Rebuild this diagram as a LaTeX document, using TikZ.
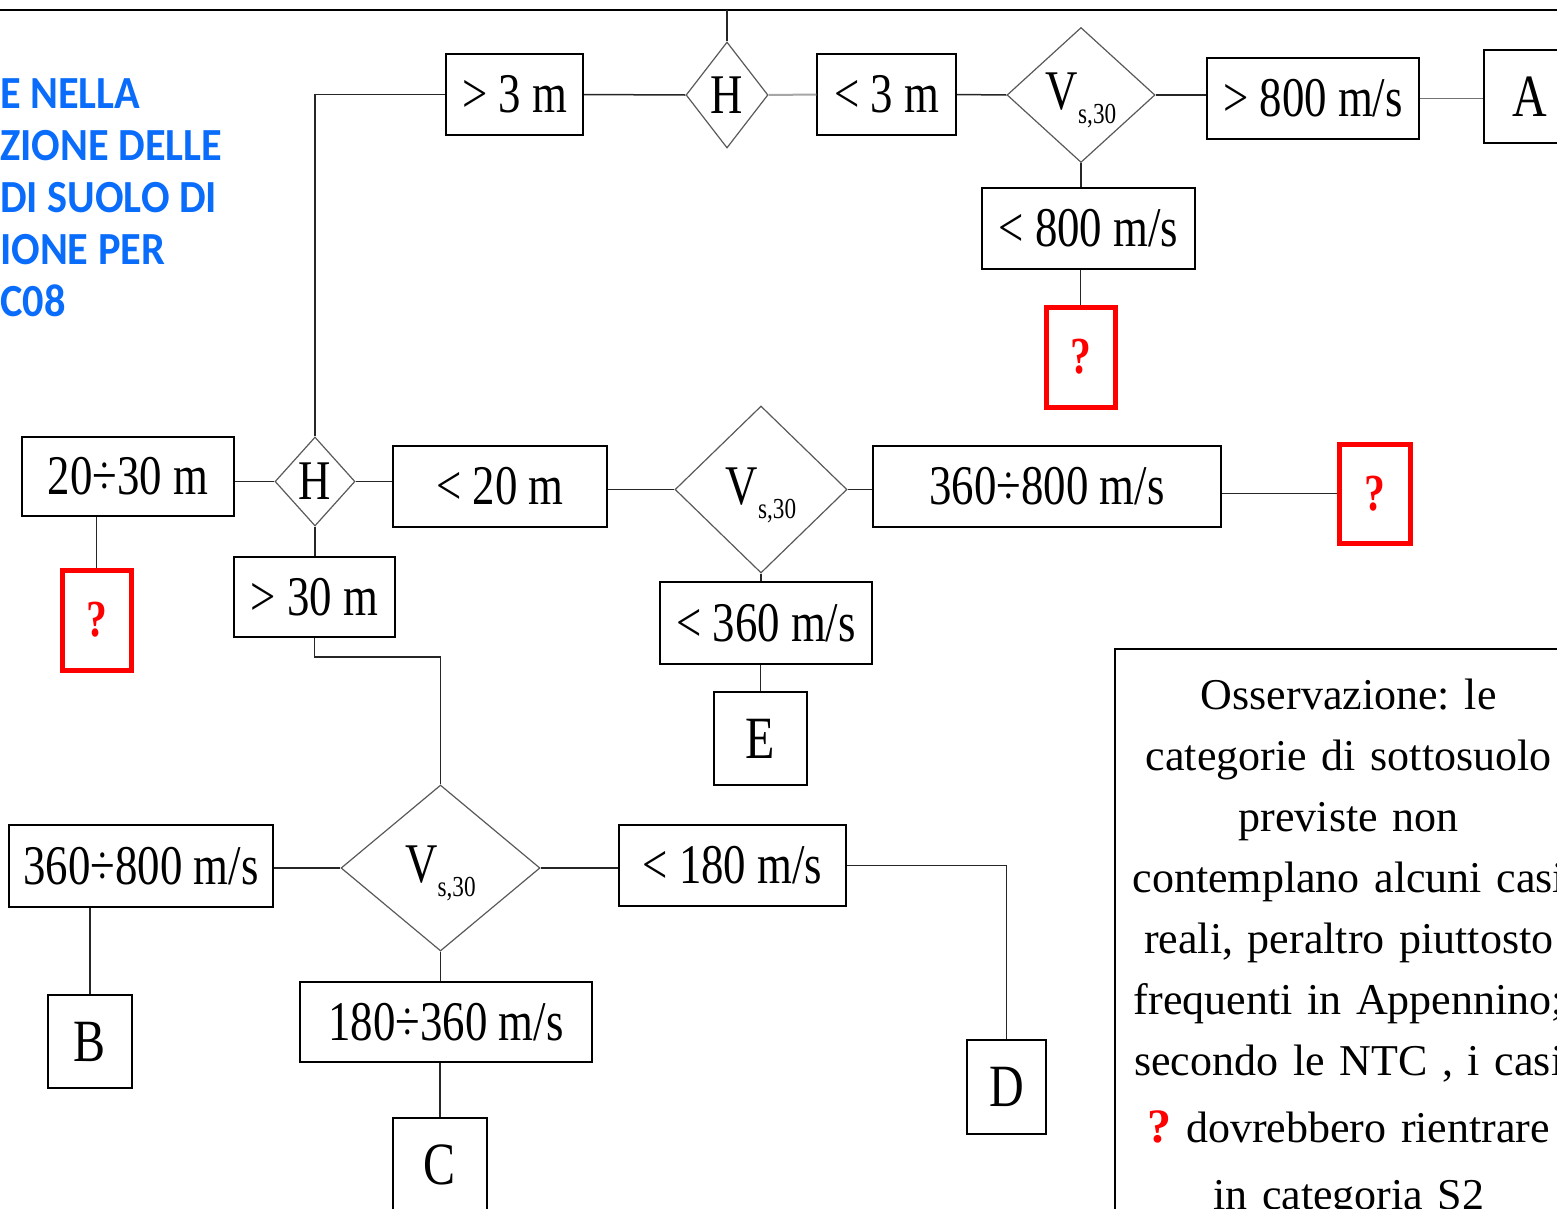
\documentclass[tikz,border=0pt]{standalone}
\usepackage{fontspec}
\setmainfont{Liberation Serif}
\newfontfamily\flowfont[FakeStretch=0.8]{Liberation Serif}
\newfontfamily\headfont[FakeStretch=0.92]{Carlito}
\usetikzlibrary{shapes.geometric}
\definecolor{headblue}{RGB}{10,108,250}
\newcommand\vsub{V\raisebox{-14pt}[\height][7pt]{\fontsize{29}{29}\selectfont s,30}}

\begin{document}
\begin{tikzpicture}[x=1pt,y=-1pt,
  box/.style={rectangle, draw=black, line width=1.5pt, inner sep=0pt, minimum height=81pt, font=\flowfont\fontsize{56}{60}\selectfont},
  cat/.style={box, minimum width=90pt, minimum height=93pt, font=\flowfont\fontsize{60}{64}\selectfont},
  query/.style={box, draw=red, text=red, line width=5pt, minimum width=69pt, minimum height=100pt, font=\flowfont\bfseries\fontsize{52}{56}\selectfont},
  rombo/.style={diamond, draw=black!65, line width=1.2pt, inner sep=0pt, font=\flowfont\fontsize{56}{60}\selectfont},
  link/.style={draw=black!85, line width=1.5pt},
  head/.style={anchor=base west, inner sep=0pt, text=headblue, font=\headfont\bfseries\fontsize{46}{52}\selectfont}]

\useasboundingbox (0,0) rectangle (1557,1208);
\clip (0,0) rectangle (1557,1208);

\coordinate (rl) at (0,10);
\coordinate (rr) at (1557,10);
\coordinate (top) at (727,10);
\draw[link, draw=black] (rl) -- (rr);

\foreach \t [count=\i] in {E NELLA, ZIONE DELLE, DI SUOLO DI, IONE PER, C08}
  \node[head] (t\i) at (0,56+52*\i) {\t};

\node[box, minimum width=137pt] (gt3) at (514.5,94.5) {> 3 m};
\node[rombo, minimum width=82pt, minimum height=106pt] (h1) at (727,95) {H};
\node[box, minimum width=139pt] (lt3) at (886.5,94.5) {< 3 m};
\node[rombo, minimum width=148pt, minimum height=135pt] (vs1) at (1081,95) {\vsub};
\node[box, minimum width=212pt] (gt800) at (1313,98.5) {> 800 m/s};
\node[cat, minimum width=91pt] (catA) at (1529.5,96.5) {A};
\node[box, minimum width=213pt] (lt800) at (1088.5,228.5) {< 800 m/s};
\node[query] (q1) at (1080.5,357) {?};

\node[box, minimum width=212pt, minimum height=79pt] (r2030) at (128,476.5) {20÷30 m};
\node[rombo, minimum width=80pt, minimum height=89pt] (h2) at (315,481.5) {H};
\node[box, minimum width=214pt] (lt20) at (500,486.5) {< 20 m};
\node[rombo, minimum width=172pt, minimum height=167pt] (vs2) at (761,489.5) {\vsub};
\node[box, minimum width=348pt] (r360800) at (1047,486.5) {360÷800 m/s};
\node[query, minimum width=71pt, minimum height=99pt] (q3) at (1374.5,493.5) {?};
\node[query] (q2) at (96.5,620) {?};
\node[box, minimum width=161pt, minimum height=80pt] (gt30) at (314.5,597) {> 30 m};
\node[box, minimum width=212pt, minimum height=82pt] (lt360) at (766,623) {< 360 m/s};
\node[cat, minimum width=93pt] (catE) at (760.5,738.5) {E};

\node[rombo, minimum width=199pt, minimum height=166pt] (vs3) at (440.5,868) {\vsub};
\node[box, minimum width=264pt, minimum height=82pt] (r360800b) at (141,866) {360÷800 m/s};
\node[box, minimum width=227pt] (lt180) at (732.5,865.5) {< 180 m/s};
\node[box, minimum width=292pt, minimum height=80pt] (r180360) at (446,1022) {180÷360 m/s};
\node[cat, minimum width=84pt] (catB) at (90,1041.5) {B};
\node[cat, minimum width=79pt, minimum height=94pt] (catD) at (1006.5,1087) {D};
\node[cat, minimum width=94pt] (catC) at (440,1164.5) {C};

\node[draw=black, line width=1.5pt, anchor=north west, text width=448pt, align=center,
  inner xsep=10pt, inner ysep=30pt, font=\frenchspacing\fontsize{44}{61}\selectfont] (nota) at (1114,648)
  {Osservazione: le\\ categorie di sottosuolo\\ previste non\\ contemplano alcuni casi\\
   reali, peraltro piuttosto\\ frequenti in Appennino;\\ secondo le NTC , i casi\\[6pt]
   {\color{red}\bfseries\fontsize{48}{61}\selectfont ?} dovrebbero rientrare\\[6pt] in categoria S2};

\draw[link] (top) -- (h1.north);
\draw[link] (gt3.east) -- (h1.west);
\draw[link, draw=black!35, line width=2pt] (h1.east) -- (lt3.west);
\draw[link] (lt3.east) -- (vs1.west);
\draw[link] (vs1.east) -- (vs1.east -| gt800.west);
\draw[link, draw=black!55] (gt800.east) -- (gt800.east -| catA.west);
\draw[link] (vs1.south) -- (vs1.south |- lt800.north);
\draw[link] (q1.north |- lt800.south) -- (q1.north);
\draw[link] (gt3.west) -| (h2.north);

\draw[link] (h2.west -| r2030.east) -- (h2.west);
\draw[link] (h2.east) -- (h2.east -| lt20.west);
\draw[link] (vs2.west -| lt20.east) -- (vs2.west);
\draw[link] (vs2.east) -- (vs2.east -| r360800.west);
\draw[link] (q3.west -| r360800.east) -- (q3.west);
\draw[link] (q2.north |- r2030.south) -- (q2.north);
\draw[link] (h2.south) -- (h2.south |- gt30.north);
\draw[link] (gt30.south) -- ++(0,19) -| (vs3.north);
\draw[link] (vs2.south) -- (vs2.south |- lt360.north);
\draw[link] (catE.north |- lt360.south) -- (catE.north);

\draw[link] (vs3.west -| r360800b.east) -- (vs3.west);
\draw[link] (vs3.east) -- (vs3.east -| lt180.west);
\draw[link] (lt180.east) -| (catD.north);
\draw[link] (vs3.south) -- (vs3.south |- r180360.north);
\draw[link] (catC.north |- r180360.south) -- (catC.north);
\draw[link] (catB.north |- r360800b.south) -- (catB.north);

\end{tikzpicture}
\end{document}
